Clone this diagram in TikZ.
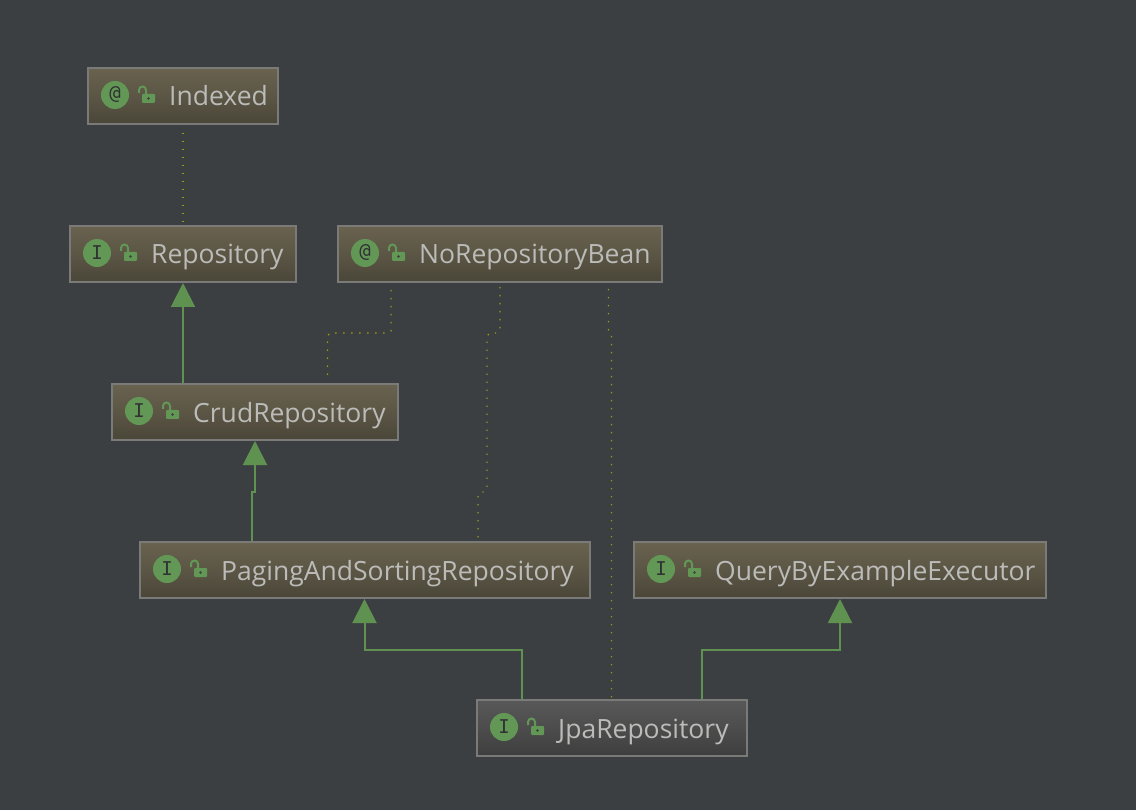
\documentclass[tikz,border=0pt]{standalone}
\usepackage{fontspec}
\setmainfont{Open Sans}
\newfontfamily\iconfont{DejaVu Sans Mono}
\usetikzlibrary{arrows.meta,calc}
\definecolor{bgc}{HTML}{3C3F41}
\definecolor{edgec}{HTML}{7A7A78}
\definecolor{boxtop}{HTML}{69624F}
\definecolor{boxbot}{HTML}{4A4638}
\definecolor{selftop}{HTML}{585858}
\definecolor{selfbot}{HTML}{3E3E3E}
\definecolor{grn}{HTML}{5F9150}
\definecolor{iconfill}{HTML}{629755}
\definecolor{txt}{HTML}{BBBBB9}
\definecolor{dotc}{HTML}{9A9A12}
\tikzset{
  x=1pt,y=-1pt,
  umlbox/.style={draw=edgec,line width=2pt,minimum height=56pt,inner sep=0pt,top color=boxtop,bottom color=boxbot,middle color=boxtop!55!boxbot},
  selfbox/.style={umlbox,top color=selftop,bottom color=selfbot,middle color=selftop!55!selfbot},
  umltext/.style={anchor=base west,text=txt,font=\fontsize{26.5}{28}\selectfont,inner sep=0pt},
  badge/.style={circle,fill=iconfill,minimum size=28pt,inner sep=0pt,text=bgc!80!black,font=\iconfont\fontsize{19}{20}\selectfont},
  inherit/.style={draw=grn,line width=2pt,-{Triangle[length=24pt,width=24pt,fill=grn]}},
  dep/.style={draw=dotc,line width=1.4pt,dash pattern=on 1.4pt off 6.6pt},
}
\newcommand{\lockicon}[1]{%
  \fill[iconfill,rounded corners=1pt] ($(#1)+(-5,-1)$) rectangle ($(#1)+(8,8)$);
  \fill[bgc] ($(#1)+(1.5,3.5)$) circle (1.4pt);
  \draw[iconfill,line width=2pt] ($(#1)+(-8,-2)$) -- ($(#1)+(-8,-5)$) arc[start angle=180,end angle=0,radius=3.5pt] -- ($(#1)+(-1,0)$);
}
\newcommand{\umlnode}[7][umlbox]{%
  % style, name, y, x1, x2, glyph, text
  \node[#1,minimum width=#5pt-#4pt,anchor=north west] (#2) at (#4,#3) {};
  \node[badge] (#2i) at ($(#2.west)+(28,-1)$) {#6};
  \coordinate (#2l) at ($(#2.west)+(60,-1)$);
  \lockicon{#2l}
  \node[umltext] (#2t) at ($(#2.west)+(82,10)$) {#7};
}
\begin{document}
\begin{tikzpicture}
\useasboundingbox (0,0) rectangle (1136,810);
\fill[bgc] (0,0) rectangle (1136,810);
\umlnode{idx}{67}{87}{277}{@}{Indexed}
\umlnode{rep}{225}{69}{295}{I}{Repository}
\umlnode{nrb}{225}{337}{661}{@}{NoRepositoryBean}
\umlnode{crud}{383}{111}{397}{I}{CrudRepository}
\umlnode{pag}{541}{139}{589}{I}{PagingAndSortingRepository}
\umlnode{qbe}{541}{633}{1045}{I}{QueryByExampleExecutor}
\umlnode[selfbox]{jpa}{699}{476}{746}{I}{JpaRepository}
% inheritance
\draw[inherit] (183,0 |- crud.north) -- (183,0 |- rep.south);
\draw[inherit] (252,0 |- pag.north) -- (252,492) -- (255,492) -- (255,0 |- crud.south);
\draw[inherit] (522,0 |- jpa.north) -- (522,650) -- (364.5,650) -- (364.5,0 |- pag.south);
\draw[inherit] (702,0 |- jpa.north) -- (702,650) -- (840,650) -- (840,0 |- qbe.south);
% dependencies
\draw[dep] ([yshift=-8pt]183,0 |- idx.south) -- ([yshift=1pt]183,0 |- rep.north);
\draw[dep] ([yshift=-7pt]391,0 |- nrb.south) -- (391,331) -- (388,333) -- (330,333) -- (327.5,336) -- ([yshift=4pt]327.5,0 |- crud.north);
\draw[dep] ([yshift=-4pt]500,0 |- nrb.south) -- (500,330) -- (497,333) -- (490,333) -- (487,336) -- (487,489) -- (484,492) -- (481,492) -- (478,495) -- ([yshift=2pt]478,0 |- pag.north);
\draw[dep] ([yshift=-6pt]608.5,0 |- nrb.south) -- (608.5,330) -- (611.5,334) -- ([yshift=1pt]611.5,0 |- jpa.north);
\end{tikzpicture}
\end{document}
